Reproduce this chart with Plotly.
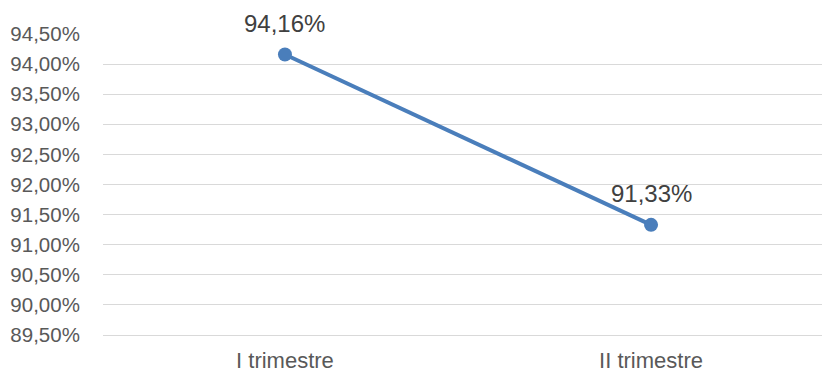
import plotly.graph_objects as go

categories = ["I trimestre", "II trimestre"]
values = [94.16, 91.33]
labels = ["94,16%", "91,33%"]
tick_vals = [89.5, 90.0, 90.5, 91.0, 91.5, 92.0, 92.5, 93.0, 93.5, 94.0, 94.5]
tick_text = ["89,50%", "90,00%", "90,50%", "91,00%", "91,50%", "92,00%",
             "92,50%", "93,00%", "93,50%", "94,00%", "94,50%"]

color = "#4a7ebb"

fig = go.Figure()
fig.add_trace(go.Scatter(
    x=categories, y=values, mode="lines+markers",
    line=dict(color=color, width=4),
    marker=dict(color=color, size=14),
    hoverinfo="skip", showlegend=False,
))

for c, v, t in zip(categories, values, labels):
    fig.add_annotation(x=c, y=v, text=t, showarrow=False, yshift=31,
                       font=dict(family="Liberation Sans, Arial", size=24, color="#404040"))

fig.update_layout(
    width=822, height=373,
    margin=dict(l=103, r=0, t=34, b=38),
    paper_bgcolor="white", plot_bgcolor="white",
    xaxis=dict(type="category", range=[-0.497, 1.467], showgrid=False,
               zeroline=False, showline=True, linecolor="#d9d9d9", linewidth=1,
               automargin=False,
               ticks="outside", ticklen=6, tickcolor="rgba(0,0,0,0)",
               tickfont=dict(family="Liberation Sans, Arial", size=22, color="#595959")),
    yaxis=dict(range=[89.5, 94.5], tickvals=tick_vals, ticktext=tick_text,
               showgrid=True, gridcolor="#d9d9d9", gridwidth=1,
               zeroline=False, showline=False, automargin=False,
               ticks="outside", ticklen=18, tickcolor="rgba(0,0,0,0)",
               tickfont=dict(family="Liberation Sans, Arial", size=20.5, color="#595959")),
)

fig.write_html("out.html")
